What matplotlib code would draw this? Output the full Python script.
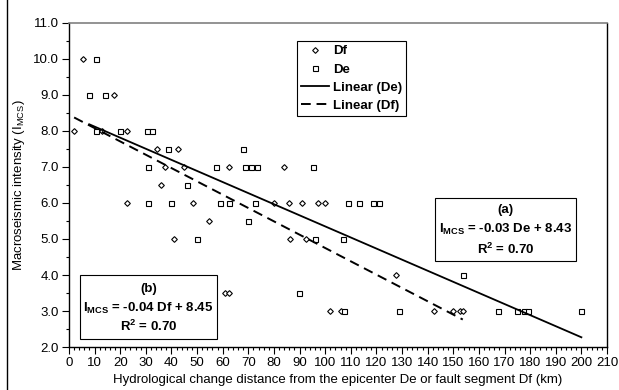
import matplotlib
matplotlib.use("Agg")
import matplotlib.pyplot as plt
from matplotlib.patches import Rectangle
from matplotlib.lines import Line2D
from matplotlib.ticker import MultipleLocator, FormatStrFormatter
import numpy as np

plt.rcParams['font.family'] = ['Liberation Sans', 'DejaVu Sans']
plt.rcParams['mathtext.fontset'] = 'custom'
plt.rcParams['mathtext.rm'] = 'Liberation Sans'
plt.rcParams['mathtext.bf'] = 'Liberation Sans:bold'

# Df: distance from fault segment (km) vs intensity
df_x = [2, 5.5, 13, 17.5, 22.6, 22.6, 34.4, 36.1, 37.4, 41, 42.5, 44.8, 48.5, 54.8,
        61, 62.5, 62.3, 80, 84, 86, 86.4, 91, 92.4, 97.2, 99.8, 102, 106, 127.5,
        142.3, 149.8, 152.5, 153.7]
df_y = [8, 10, 8, 9, 8, 6, 7.5, 6.5, 7, 5, 7.5, 7, 6, 5.5,
        3.5, 3.5, 7, 6, 7, 6, 5, 6, 5, 6, 6, 3, 3, 4,
        3, 3, 3, 3]

# De: distance from epicenter (km) vs intensity
de_x = [7.9, 10.5, 10.4, 13.9, 20, 30.4, 32.4, 38.5, 30.9, 45.9, 30.9, 40, 49.8,
        57.3, 68, 68.6, 71, 73.4, 95.4, 58.9, 62.5, 72.5, 70, 95.9, 106.9, 108.9,
        113.1, 118.6, 121, 89.8, 107.3, 128.8, 153.7, 167.4, 174.8, 177.6, 179, 200]
de_y = [9, 10, 8, 9, 8, 8, 8, 7.5, 7, 6.5, 6, 6, 5,
        7, 7.5, 7, 7, 7, 7, 6, 6, 6, 5.5, 5, 5, 6,
        6, 6, 6, 3.5, 3, 3, 4, 3, 3, 3, 3, 3]

# linear trendlines (slope, intercept)
de_fit = (-0.0308, 8.43)
df_fit = (-0.0370, 8.45)

fig = plt.figure(figsize=(6.19, 3.90), dpi=100)
ax = fig.add_axes([69/619, 1-347/390, 538/619, 324/390])

dkw = dict(linestyle='none', marker='D', markersize=2.9, markerfacecolor='white',
           markeredgecolor='black', markeredgewidth=0.8)
skw = dict(linestyle='none', marker='s', markersize=3.6, markerfacecolor='white',
           markeredgecolor='black', markeredgewidth=0.8)

ax.plot(df_x, df_y, zorder=3, **dkw)
ax.plot(de_x, de_y, zorder=3, **skw)

xe = np.array([min(de_x), max(de_x)])
ax.plot(xe, de_fit[0]*xe + de_fit[1], color='black', lw=1.3, zorder=4)
xf = np.array([min(df_x), max(df_x)])
ax.plot(xf, df_fit[0]*xf + df_fit[1], color='black', lw=1.4,
        linestyle=(0, (5, 3)), zorder=4)

ax.set_xlim(0, 210)
ax.set_ylim(2, 11)
ax.xaxis.set_major_locator(MultipleLocator(10))
ax.xaxis.set_minor_locator(MultipleLocator(2))
ax.yaxis.set_major_locator(MultipleLocator(1))
ax.yaxis.set_minor_locator(MultipleLocator(0.5))
ax.yaxis.set_major_formatter(FormatStrFormatter('%.1f'))
ax.tick_params(which='major', direction='out', length=5, width=0.8, labelsize=9.5, pad=2.5)
ax.tick_params(which='minor', direction='out', length=2.5, width=0.8)
ax.tick_params(top=False, right=False)

ax.spines['top'].set_color('#808080')
ax.spines['top'].set_linewidth(1.2)
for s in ['left', 'bottom', 'right']:
    ax.spines[s].set_color('black')
    ax.spines[s].set_linewidth(1.0)

ax.set_xlabel('Hydrological change distance from the epicenter De or fault segment Df (km)',
              fontsize=9.5, labelpad=3)
ax.set_ylabel(r'Macroseismic intensity (I$_{\mathrm{MCS}}$)', fontsize=9.5, labelpad=4)

handles = [
    Line2D([], [], **dkw),
    Line2D([], [], **skw),
    Line2D([], [], color='black', lw=1.3),
    Line2D([], [], color='black', lw=1.4, linestyle=(0, (5, 3))),
]
leg = ax.legend(handles, ['Df', 'De', 'Linear (De)', 'Linear (Df)'],
                loc='upper left', bbox_to_anchor=(0.424, 0.944), borderaxespad=0,
                fancybox=False, edgecolor='black', framealpha=1,
                prop={'weight': 'bold', 'size': 9.5}, handlelength=2.1,
                handletextpad=0.3, labelspacing=0.45, borderpad=0.3)
leg.get_frame().set_linewidth(0.8)

# equation boxes
ax.add_patch(Rectangle((0.680, 0.265), 0.262, 0.195, transform=ax.transAxes,
                       fill=True, facecolor='white', edgecolor='black', lw=0.8, zorder=5))
ax.add_patch(Rectangle((0.0204, 0.0247), 0.2553, 0.197, transform=ax.transAxes,
                       fill=True, facecolor='white', edgecolor='black', lw=0.8, zorder=5))

tkw = dict(transform=ax.transAxes, ha='center', va='center', fontsize=9.5,
           fontweight='bold', zorder=6)
ax.text(0.811, 0.423, '(a)', **tkw)
ax.text(0.811, 0.363, r'I$_{\mathbf{MCS}}$ = -0.03 De + 8.43', **tkw)
ax.text(0.811, 0.302, r'R$^{\mathbf{2}}$ = 0.70', **tkw)
ax.text(0.148, 0.180, '(b)', **tkw)
ax.text(0.148, 0.119, r'I$_{\mathbf{MCS}}$ = -0.04 Df + 8.45', **tkw)
ax.text(0.148, 0.063, r'R$^{\mathbf{2}}$ = 0.70', **tkw)

# chart area border
fig.patches.append(Rectangle((7/619, -0.05), 1.2, 1.05 + (1 - 9/390), transform=fig.transFigure,
                             fill=False, edgecolor='black', lw=1.0))

fig.savefig('out.png', dpi=100)
